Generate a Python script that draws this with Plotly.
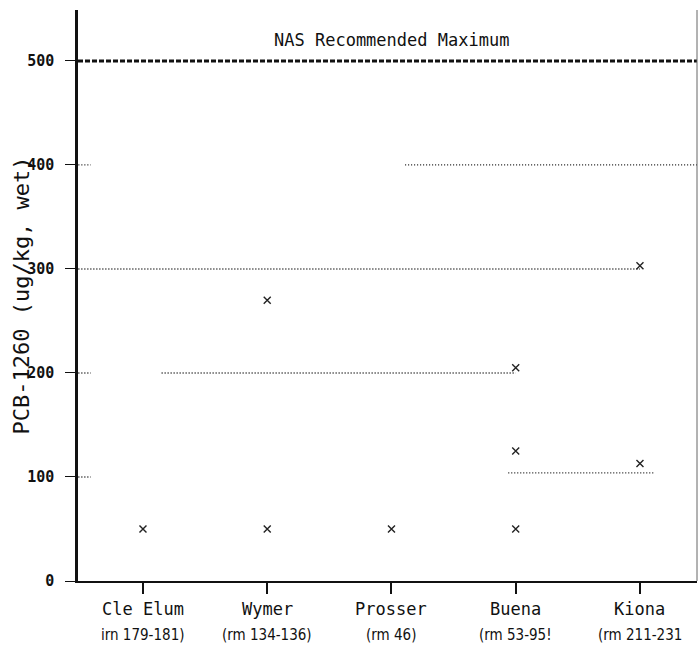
import plotly.graph_objects as go

# Sampling stations along the river and their river-mile ranges
stations = ["Cle Elum", "Wymer", "Prosser", "Buena", "Kiona"]
river_miles = ["irn 179-181)", "(rm 134-136)", "(rm 46)", "(rm 53-95!", "(rm 211-231"]

# Individual PCB-1260 measurements (ug/kg, wet) at each station
sample_station = [0, 1, 1, 2, 3, 3, 3, 4, 4]
sample_value = [50, 50, 270, 50, 50, 125, 205, 113, 303]

# Recommended maximum concentration
nas_limit = 500

# Dotted reference segments: (start position, end position, level)
ref_start = [-0.52, 2.11, 0.15, 2.94, -0.52, -0.52, -0.52]
ref_end = [4.0, 4.46, 3.0, 4.11, -0.42, -0.42, -0.42]
ref_level = [300, 400, 200, 104, 400, 200, 100]

y_ticks = [0, 100, 200, 300, 400, 500]

mono = "DejaVu Sans Mono"

fig = go.Figure()

# dotted reference segments
for x0, x1, lvl in zip(ref_start, ref_end, ref_level):
    fig.add_trace(go.Scatter(
        x=[x0, x1], y=[lvl, lvl], mode="lines",
        line=dict(color="#111111", width=1.3, dash="1px,2px"),
        hoverinfo="skip", showlegend=False,
    ))

# recommended maximum line
fig.add_trace(go.Scatter(
    x=[-0.523, 4.459], y=[nas_limit, nas_limit], mode="lines",
    line=dict(color="#111111", width=3, dash="5px,2px"),
    hoverinfo="skip", showlegend=False,
))

# sample measurements
fig.add_trace(go.Scatter(
    x=sample_station, y=sample_value, mode="markers",
    marker=dict(symbol="x-thin", size=7, line=dict(color="#222222", width=1.4)),
    showlegend=False,
))

fig.add_annotation(
    x=2.0, y=nas_limit, xref="x", yref="y", yshift=9,
    text="NAS Recommended Maximum", showarrow=False,
    font=dict(family=mono, size=17, color="#111111"),
    xanchor="center", yanchor="bottom",
)

# two-line station labels beneath the axis
for i, (name, rm) in enumerate(zip(stations, river_miles)):
    fig.add_annotation(
        x=i, y=0, xref="x", yref="paper", yshift=-16,
        text=name, showarrow=False,
        font=dict(family=mono, size=17, color="#111111"),
        xanchor="center", yanchor="top",
    )
    fig.add_annotation(
        x=i, y=0, xref="x", yref="paper", yshift=-43,
        text=rm, showarrow=False,
        font=dict(family="DejaVu Sans Condensed, DejaVu Sans", size=15, color="#111111"),
        xanchor="center", yanchor="top",
    )

# y-axis title
fig.add_annotation(
    x=-0.092, y=0.5, xref="paper", yref="paper",
    text="PCB-1260 (ug/kg, wet)", textangle=-90, showarrow=False,
    font=dict(family=mono, size=22, color="#111111"),
    xanchor="center", yanchor="middle",
)

# faint right-hand frame
fig.add_shape(type="line", xref="paper", yref="paper", x0=1, x1=1, y0=0, y1=1,
              line=dict(color="#666666", width=1))

fig.update_layout(
    width=700, height=656,
    margin=dict(l=78, r=3, t=10, b=75),
    paper_bgcolor="white", plot_bgcolor="white",
    xaxis=dict(
        range=[-0.523, 4.459], tickvals=list(range(len(stations))),
        showticklabels=False, showgrid=False, zeroline=False,
        showline=True, linecolor="#111111", linewidth=1.5,
        ticks="outside", ticklen=11, tickwidth=1.5, tickcolor="#111111",
    ),
    yaxis=dict(
        range=[0, 549], tickvals=y_ticks, ticktext=[str(v) for v in y_ticks],
        showgrid=False, zeroline=False,
        showline=True, linecolor="#111111", linewidth=2.5,
        ticks="outside", ticklen=10, tickwidth=1.2, tickcolor="#111111",
        ticklabelstandoff=8,
        tickfont=dict(family=mono, size=15, color="#111111", weight="bold"),
    ),
)

fig.write_html("out.html")
